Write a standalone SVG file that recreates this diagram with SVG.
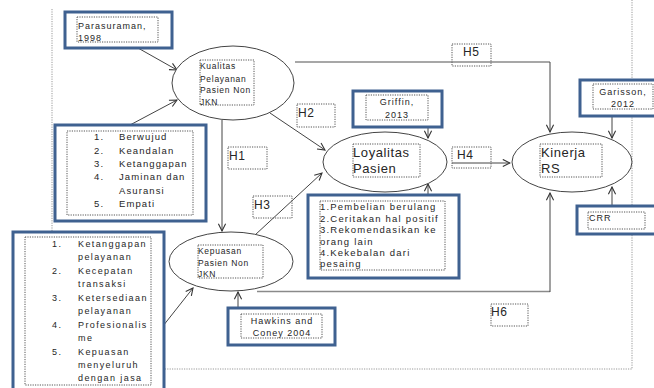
<svg xmlns="http://www.w3.org/2000/svg" width="654" height="388" viewBox="0 0 654 388">
<style>
.bg{fill:#fff}
.blue{fill:#fff;stroke:#3f6190;stroke-width:3}
.dot{fill:none;stroke:#555;stroke-width:1;stroke-dasharray:1.2 1.2}
.frame{fill:none;stroke:#999;stroke-width:1;stroke-dasharray:1.2 1.2}
.ell{fill:#fff;stroke:#444;stroke-width:1}
.ln{fill:none;stroke:#444;stroke-width:1}
.gl{fill:none;stroke:#8a8a8a;stroke-width:1.5}
text{font-family:"Liberation Sans",Arial,sans-serif;fill:#262626}
.s8{font-size:8.5px;letter-spacing:0.7px}
.s9{font-size:9px;letter-spacing:1px}
.s9b{font-size:9.5px;letter-spacing:1.1px}
.s9l{font-size:9.5px;letter-spacing:1.2px}
.s9w{font-size:9px;letter-spacing:1.4px}
.s13{font-size:13px;letter-spacing:0.6px}
.h{font-size:12px;letter-spacing:0.5px}
</style>
<defs>
<marker id="a" viewBox="0 0 10 10" refX="9" refY="5" markerWidth="9" markerHeight="9" markerUnits="userSpaceOnUse" orient="auto">
<path d="M1,1 L9,5 L1,9" fill="none" stroke="#333" stroke-width="1.2"/>
</marker>
</defs>
<rect class="bg" x="0" y="0" width="654" height="388"/>
<g id="frame">
<path class="frame" d="M52,9 V369 H632 V0"/>
</g>
<g id="connectors">
<line class="ln" x1="138" y1="48" x2="177" y2="70" marker-end="url(#a)"/>
<line class="ln" x1="130" y1="125" x2="177" y2="100" marker-end="url(#a)"/>
<line class="ln" x1="222" y1="120" x2="222" y2="231" marker-end="url(#a)"/>
<line class="ln" x1="270" y1="113" x2="325" y2="150" marker-end="url(#a)"/>
<line class="ln" x1="255" y1="235" x2="322" y2="173" marker-end="url(#a)"/>
<line class="ln" x1="163" y1="326" x2="193" y2="288" marker-end="url(#a)"/>
<line class="ln" x1="238" y1="308" x2="238" y2="292" marker-end="url(#a)"/>
<path class="gl" d="M257,291.5 H550"/>
<line class="ln" x1="550" y1="292" x2="550" y2="193" marker-end="url(#a)"/>
<path class="gl" d="M295,62 H550"/>
<line class="ln" x1="550" y1="62" x2="550" y2="132" marker-end="url(#a)"/>
<line class="ln" x1="452" y1="163" x2="510" y2="163" marker-end="url(#a)"/>
<line class="ln" x1="428" y1="120" x2="428" y2="138" marker-end="url(#a)"/>
<line class="ln" x1="428" y1="195" x2="428" y2="184" marker-end="url(#a)"/>
<line class="ln" x1="612" y1="116" x2="612" y2="138" marker-end="url(#a)"/>
<line class="ln" x1="612" y1="206" x2="612" y2="187" marker-end="url(#a)"/>
</g>
<g id="parasuraman">
<rect class="blue" x="65" y="12" width="107" height="36"/>
<rect class="dot" x="77" y="17" width="81" height="25"/>
<text class="s9" x="78" y="29">Parasuraman,</text>
<text class="s9" x="78" y="41">1998</text>
</g>
<g id="kualitas">
<ellipse class="ell" cx="233" cy="83" rx="61" ry="37"/>
<rect class="dot" x="200" y="60" width="54" height="45"/>
<text class="s8" x="200" y="69">Kualitas</text>
<text class="s8" x="200" y="82">Pelayanan</text>
<text class="s8" x="200" y="93">Pasien Non</text>
<text class="s8" x="200" y="105">JKN</text>
</g>
<g id="dimensi-kualitas">
<rect class="blue" x="55" y="125" width="151" height="96"/>
<rect class="dot" x="67" y="131" width="126" height="84"/>
<text class="s9b" x="94" y="140">1.</text><text class="s9b" x="119" y="140">Berwujud</text>
<text class="s9b" x="94" y="154">2.</text><text class="s9b" x="119" y="154">Keandalan</text>
<text class="s9b" x="94" y="167">3.</text><text class="s9b" x="119" y="167">Ketanggapan</text>
<text class="s9b" x="94" y="180">4.</text><text class="s9b" x="119" y="180">Jaminan dan</text>
<text class="s9b" x="119" y="194">Asuransi</text>
<text class="s9b" x="94" y="207">5.</text><text class="s9b" x="119" y="207">Empati</text>
</g>
<g id="h1">
<rect class="dot" x="228" y="147" width="39" height="22"/>
<text class="h" x="229" y="160">H1</text>
</g>
<g id="h2">
<rect class="dot" x="297" y="104" width="38" height="23"/>
<text class="h" x="298" y="117">H2</text>
</g>
<g id="h3">
<rect class="dot" x="253" y="196" width="39" height="22"/>
<text class="h" x="254" y="209">H3</text>
</g>
<g id="kepuasan">
<ellipse class="ell" cx="231" cy="261.5" rx="62" ry="29.5"/>
<rect class="dot" x="198" y="245" width="65" height="33"/>
<text class="s8" x="198" y="254">Kepuasan</text>
<text class="s8" x="198" y="266">Pasien Non</text>
<text class="s8" x="198" y="277">JKN</text>
</g>
<g id="dimensi-kepuasan">
<rect class="blue" x="13" y="232" width="151" height="160"/>
<rect class="dot" x="25" y="237" width="126" height="148"/>
<text class="s9w" x="52" y="247">1.</text><text class="s9w" x="78" y="247">Ketanggapan</text>
<text class="s9w" x="78" y="260">pelayanan</text>
<text class="s9w" x="52" y="274">2.</text><text class="s9w" x="78" y="274">Kecepatan</text>
<text class="s9w" x="78" y="287">transaksi</text>
<text class="s9w" x="52" y="301">3.</text><text class="s9w" x="78" y="301">Ketersediaan</text>
<text class="s9w" x="78" y="314">pelayanan</text>
<text class="s9w" x="52" y="328">4.</text><text class="s9w" x="78" y="328">Profesionalis</text>
<text class="s9w" x="78" y="341">me</text>
<text class="s9w" x="52" y="355">5.</text><text class="s9w" x="78" y="355">Kepuasan</text>
<text class="s9w" x="78" y="368">menyeluruh</text>
<text class="s9w" x="78" y="381">dengan jasa</text>
</g>
<g id="hawkins">
<rect class="blue" x="228" y="308" width="107" height="37"/>
<rect class="dot" x="241" y="314" width="81" height="24"/>
<text class="s9" x="282" y="324" text-anchor="middle">Hawkins and</text>
<text class="s9" x="282" y="336" text-anchor="middle">Coney 2004</text>
</g>
<g id="h6">
<rect class="dot" x="491" y="304" width="37" height="22"/>
<text class="h" x="491" y="316">H6</text>
</g>
<g id="griffin">
<rect class="blue" x="353" y="91" width="89" height="36"/>
<rect class="dot" x="366" y="95" width="62" height="25"/>
<text class="s9" x="397" y="105" text-anchor="middle">Griffin,</text>
<text class="s9" x="397" y="118" text-anchor="middle">2013</text>
</g>
<g id="loyalitas">
<ellipse class="ell" cx="385" cy="162" rx="62" ry="30"/>
<rect class="dot" x="353" y="144" width="67" height="33"/>
<text class="s13" x="353" y="157">Loyalitas</text>
<text class="s13" x="353" y="173">Pasien</text>
</g>
<g id="dimensi-loyalitas">
<rect class="blue" x="308" y="195" width="151" height="83"/>
<rect class="dot" x="320" y="201" width="125" height="69"/>
<text class="s9l" x="320" y="210">1.Pembelian berulang</text>
<text class="s9l" x="320" y="222">2.Ceritakan hal positif</text>
<text class="s9l" x="320" y="233">3.Rekomendasikan ke</text>
<text class="s9l" x="320" y="245">orang lain</text>
<text class="s9l" x="320" y="256">4.Kekebalan dari</text>
<text class="s9l" x="320" y="267">pesaing</text>
</g>
<g id="h4">
<rect class="dot" x="452" y="147" width="39" height="21"/>
<text class="h" x="457" y="159">H4</text>
</g>
<g id="h5">
<rect class="dot" x="452" y="44" width="39" height="22"/>
<text class="h" x="463" y="56">H5</text>
</g>
<g id="kinerja">
<ellipse class="ell" cx="572" cy="162" rx="60" ry="30"/>
<rect class="dot" x="540" y="144" width="62" height="33"/>
<text class="s13" x="541" y="157">Kinerja</text>
<text class="s13" x="541" y="173">RS</text>
</g>
<g id="garisson">
<rect class="blue" x="580" y="80" width="76" height="36"/>
<rect class="dot" x="593" y="84" width="60" height="25"/>
<text class="s9" x="623" y="95" text-anchor="middle">Garisson,</text>
<text class="s9" x="623" y="107" text-anchor="middle">2012</text>
</g>
<g id="crr">
<rect class="blue" x="577" y="206" width="79" height="28"/>
<rect class="dot" x="588" y="212" width="57" height="17"/>
<text class="s9" x="589" y="221">CRR</text>
</g>
</svg>
